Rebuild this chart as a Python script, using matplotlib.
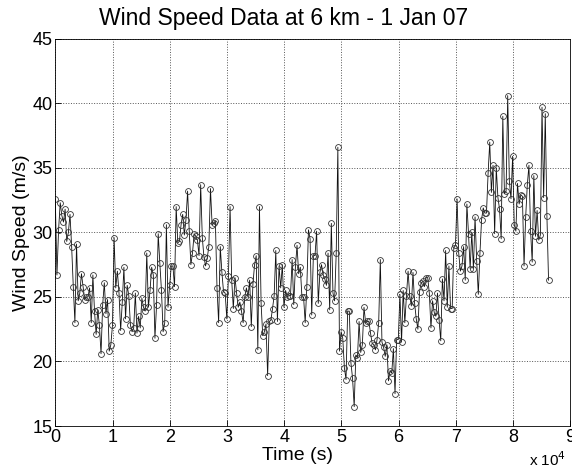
import numpy as np
import matplotlib
matplotlib.use("Agg")
import matplotlib.pyplot as plt

plt.rcParams['font.family'] = ['Liberation Sans', 'DejaVu Sans']

# wind speed samples (m/s), 5 min-ish steps through the day
speed_00 = [32.6, 26.7, 30.2, 32.3, 31.3, 30.8, 31.8, 29.3, 30.0, 31.4, 28.9, 25.8, 23.0,
            29.1, 24.7, 25.3, 26.8, 25.8, 24.8, 25.0, 25.0, 25.7, 23.0, 26.7, 23.9, 22.1,
            24.0, 22.8, 20.6, 24.4, 26.1, 23.7, 24.8, 20.8, 21.3, 22.8]
speed_10 = [29.6, 25.7, 27.0, 25.3, 22.4, 24.6, 27.3, 23.3, 25.9, 25.1, 22.8, 22.3, 22.6,
            25.3, 22.2, 23.5, 22.6, 24.9, 24.2, 23.9, 28.4, 24.2, 25.5, 27.3, 26.7, 21.8,
            24.4, 29.9, 27.6, 25.5, 22.3, 23.0, 30.6, 24.2, 25.9]
speed_20 = [27.4, 27.4, 25.8, 32.0, 29.2, 29.3, 30.6, 31.4, 29.8, 31.0, 33.2, 30.1, 27.5,
            28.4, 29.9, 29.7, 29.4, 28.2, 33.7, 29.6, 28.1, 27.4, 28.0, 28.9, 33.4, 30.6,
            30.7, 30.9, 25.7, 23.0, 28.9, 26.9, 25.4, 25.3, 23.3]
speed_30 = [26.6, 32.0, 26.3, 24.1, 26.5, 25.3, 24.2, 24.6, 23.9, 23.0, 25.0, 25.7, 25.0,
            26.3, 22.7, 26.0, 27.5, 28.2, 20.9, 32.0, 24.5, 22.0, 22.3, 22.9, 18.9, 23.1,
            23.2, 24.1, 25.1, 28.6, 23.1, 27.4, 25.7, 27.5]
speed_40 = [24.2, 25.5, 25.0, 25.1, 25.1, 27.9, 24.4, 27.3, 29.0, 26.8, 27.3, 25.0, 25.0,
            23.0, 25.8, 30.2, 29.5, 23.6, 28.2, 28.2, 30.1, 24.5, 26.9, 27.5, 26.7, 26.4,
            25.9, 28.4, 24.0, 30.7, 25.3, 24.7, 28.4, 36.6]
speed_50 = [20.8, 22.3, 21.8, 19.5, 18.6, 23.9, 23.9, 19.9, 18.7, 16.5, 20.5, 20.3, 23.1,
            20.7, 21.3, 24.2, 23.0, 23.1, 23.1, 22.2, 21.4, 21.3, 20.9, 21.7, 23.0, 27.9,
            21.5, 21.1, 20.4, 21.3, 18.5, 19.3, 19.1, 21.0, 17.5]
speed_60 = [21.7, 21.7, 25.2, 21.5, 25.5, 23.0, 25.1, 27.0, 25.1, 24.3, 26.9, 24.5, 23.3,
            22.5, 25.4, 26.1, 26.2, 25.8, 26.5, 26.5, 25.3, 22.6, 24.7, 23.8, 23.5, 25.3,
            23.2, 21.6, 26.4, 24.7, 28.6, 24.2, 27.4, 24.1]
speed_70 = [24.1, 28.8, 29.0, 32.6, 28.4, 27.0, 27.4, 28.9, 26.3, 32.2, 29.9, 27.2, 30.0,
            27.2, 31.2, 27.8, 25.2, 28.4, 31.0, 31.9, 31.5, 31.5, 34.6, 37.0, 33.1, 35.2,
            29.9, 35.0, 32.7, 31.8, 29.5, 39.0, 33.0, 33.2, 40.6]
speed_80 = [34.0, 32.6, 35.9, 30.6, 30.1, 33.8, 32.2, 32.9, 32.8, 27.4, 31.2, 33.7, 35.2,
            30.1, 27.7, 34.4, 29.7, 31.7, 29.4, 29.8, 39.7, 32.7, 39.2, 31.3, 26.3]

speed = np.array(speed_00 + speed_10 + speed_20 + speed_30 + speed_40 +
                 speed_50 + speed_60 + speed_70 + speed_80)
t_end = 86200  # last sample time (s)
time = np.linspace(0, t_end, len(speed))

xticks = [0, 10000, 20000, 30000, 40000, 50000, 60000, 70000, 80000, 90000]
xticklabels = ['0', '1', '2', '3', '4', '5', '6', '7', '8', '9']
yticks = [15, 20, 25, 30, 35, 40, 45]

fig = plt.figure(figsize=(5.72, 4.71), dpi=100)
ax = fig.add_axes([0.0967, 0.0955, 0.9003, 0.8221])

ax.plot(time, speed, '-', color='#111111', lw=0.6)
ax.plot(time, speed, 'o', mfc='none', mec='#333333', ms=4.2, mew=0.6)

ax.set_xlim(0, 90000)
ax.set_ylim(15, 45)
ax.set_xticks(xticks)
ax.set_xticklabels(xticklabels)
ax.set_yticks(yticks)
ax.tick_params(direction='in', length=4, width=0.6, labelsize=13, pad=2)
ax.grid(True, linestyle=':', color='#555555', linewidth=0.7)
for s in ax.spines.values():
    s.set_linewidth(0.6)

ax.set_title('Wind Speed Data at 6 km - 1 Jan 07', fontsize=16.5, pad=10, x=0.444)
ax.set_xlabel('Time (s)', fontsize=14, labelpad=1)
ax.xaxis.set_label_coords(0.47, -0.055)
ax.set_ylabel('Wind Speed (m/s)', fontsize=14, labelpad=2)
fig.text(0.958, 0.005, r'x 10$^{4}$', fontsize=11, ha='center', va='bottom')

fig.savefig('out.png', dpi=100)
